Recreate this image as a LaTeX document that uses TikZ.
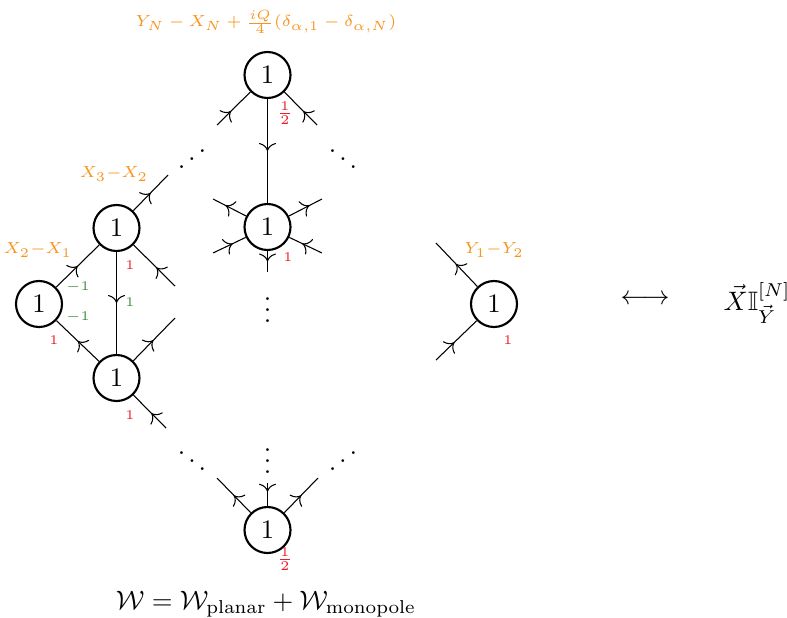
\documentclass[tikz,border=0pt]{standalone}
\usepackage{amssymb}
\usetikzlibrary{decorations.markings,arrows.meta}
\definecolor{lblorange}{RGB}{247,148,29}
\definecolor{lblred}{RGB}{237,28,36}
\definecolor{lblgreen}{RGB}{64,140,64}
\begin{document}
\begin{tikzpicture}[x=0.375pt,y=-0.375pt,
 gnode/.style={circle,draw,thick,minimum size=17.25pt,inner sep=0pt,font=\normalsize},
 midarr/.style={postaction={decorate},decoration={markings,mark=at position #1 with {\arrow{Computer Modern Rightarrow[length=3pt,width=6.4pt]}}}},
 midarr/.default=0.5,
 ora/.style={text=lblorange,font=\fontsize{6}{7}\selectfont,inner sep=0pt},
 rlab/.style={text=lblred,font=\tiny,inner sep=0pt},
 hlab/.style={text=lblred,font=\scriptsize,inner sep=0pt},
 glab/.style={text=lblgreen,font=\tiny,inner sep=0pt},
 dotsnode/.style={anchor=base,inner sep=0pt}]
\useasboundingbox (0,0) rectangle (787,617);
% gauge nodes
\node[gnode] (T) at (267.5,75) {1};
\node[gnode] (M) at (267.5,227) {1};
\node[gnode] (L1) at (39,304) {1};
\node[gnode] (L2) at (116.5,228) {1};
\node[gnode] (L3) at (116.5,378) {1};
\node[gnode] (B) at (267.5,530) {1};
\node[gnode] (R) at (494,304) {1};
% free ends
\coordinate (t1) at (217,125);
\coordinate (t2) at (317,125);
\coordinate (m1) at (213,199);
\coordinate (m2) at (322,199);
\coordinate (m3) at (213,253);
\coordinate (m4) at (322,253);
\coordinate (m5) at (267.5,272);
\coordinate (c1) at (168,175);
\coordinate (c2) at (175,286);
\coordinate (c3) at (175,318);
\coordinate (c4) at (166,428);
\coordinate (b1) at (217,478);
\coordinate (b2) at (267.5,483);
\coordinate (b3) at (318,478);
\coordinate (r1) at (436,243);
\coordinate (r2) at (436,360);
% edges
\draw[midarr=0.42] (t1) -- (T);
\draw[midarr=0.42] (t2) -- (T);
\draw[midarr] (T) -- (M);
\draw[midarr=0.62] (M) -- (m1);
\draw[midarr=0.62] (M) -- (m2);
\draw[midarr=0.6] (m3) -- (M);
\draw[midarr=0.6] (m4) -- (M);
\draw[midarr] (M) -- (m5);
\draw[midarr] (L1) -- (L2);
\draw[midarr] (L3) -- (L1);
\draw[midarr] (L2) -- (c1);
\draw[midarr=0.45] (c2) -- (L2);
\draw[midarr] (L2) -- (L3);
\draw[midarr=0.48] (L3) -- (c3);
\draw[midarr=0.45] (c4) -- (L3);
\draw[midarr] (B) -- (b1);
\draw[midarr=0.38] (b2) -- (B);
\draw[midarr] (B) -- (b3);
\draw[midarr=0.52] (R) -- (r1);
\draw[midarr=0.45] (r2) -- (R);
% dots
\node[dotsnode,xscale=-1] (d1) at (192,171) {$\ddots$};
\node[dotsnode] (d2) at (343,171) {$\ddots$};
\node[dotsnode] (d3) at (192,473) {$\ddots$};
\node[dotsnode,xscale=-1] (d4) at (343,473) {$\ddots$};
\node[dotsnode] (d5) at (267.5,322) {$\vdots$};
\node[dotsnode] (d6) at (267.5,473) {$\vdots$};
% labels
\node[ora] (topl) at (266,22) {$Y_N - X_N + \frac{iQ}{4}(\delta_{\alpha,1} - \delta_{\alpha,N})$};
\node[hlab] (hT) at (285,113) {$\frac{1}{2}$};
\node[ora] (x32) at (114,174) {$X_3{-}X_2$};
\node[ora] (x21) at (38,250) {$X_2{-}X_1$};
\node[glab] (g1) at (78,287) {$-1$};
\node[glab] (g2) at (78,317) {$-1$};
\node[rlab] (rL1) at (54,340) {$1$};
\node[rlab] (rL2) at (130,265) {$1$};
\node[glab] (g3) at (130,302) {$1$};
\node[rlab] (rL3) at (130,415) {$1$};
\node[rlab] (rM) at (288,257) {$1$};
\node[hlab] (hB) at (285,559) {$\frac{1}{2}$};
\node[ora] (y12) at (494,250) {$Y_1{-}Y_2$};
\node[rlab] (rR) at (508,340) {$1$};
\node (lr) at (645,300) {$\longleftrightarrow$};
\node (idx) at (757,303) {$\vec{X}\mathbb{I}^{[N]}_{\vec{Y}}$};
\node (W) at (266,604) {$\mathcal{W}=\mathcal{W}_{\mathrm{planar}}+\mathcal{W}_{\mathrm{monopole}}$};
\end{tikzpicture}
\end{document}
